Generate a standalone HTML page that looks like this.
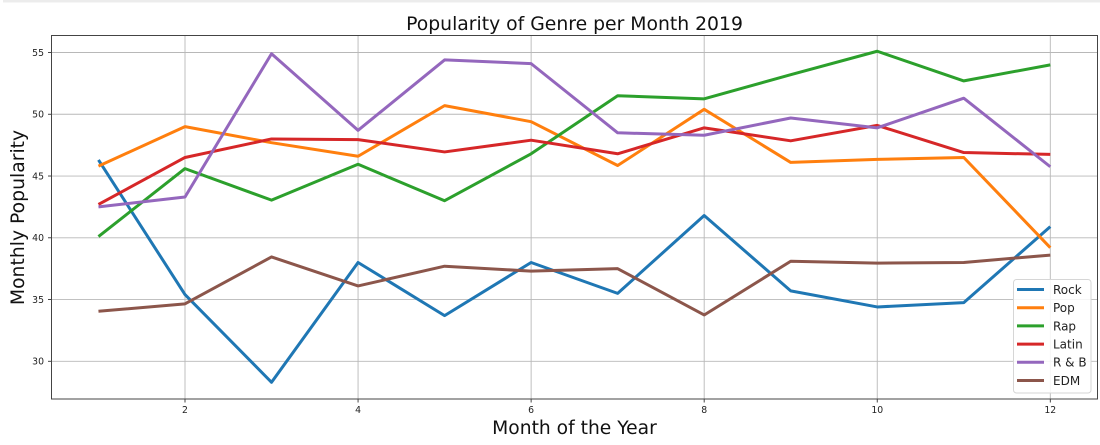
<!DOCTYPE html>
<html lang="en">
<head>
<meta charset="utf-8">
<title>Popularity of Genre per Month 2019</title>
<style>
html,body{margin:0;padding:0;background:#fff;width:1100px;height:445px;overflow:hidden}
svg{display:block;font-family:"DejaVu Sans","Liberation Sans",sans-serif}
</style>
</head>
<body>
<svg id="chart" width="1100" height="445" viewBox="0 0 1100 445" xmlns="http://www.w3.org/2000/svg">
  <rect x="3" y="0" width="1097" height="2.5" fill="#ececec"/>
  <g id="grid"></g>
  <g id="ticks"></g>
  <g id="series"></g>
  <rect x="51.5" y="35.5" width="1046" height="363.5" fill="none" stroke="#444" stroke-width="1"/>
  <text x="574.5" y="30" font-size="18.8" text-anchor="middle" fill="#111">Popularity of Genre per Month 2019</text>
  <text x="574.5" y="434" font-size="18.7" text-anchor="middle" fill="#111">Month of the Year</text>
  <text transform="translate(24 217.5) rotate(-90)" font-size="18.8" text-anchor="middle" fill="#111">Monthly Popularity</text>
  <g id="legend"></g>
</svg>
<script>
const months = [1, 2, 3, 4, 5, 6, 7, 8, 9, 10, 11, 12];
const xTicks = [2, 4, 6, 8, 10, 12];
const yTicks = [30, 35, 40, 45, 50, 55];
const seriesNames = ["Rock", "Pop", "Rap", "Latin", "R & B", "EDM"];
const seriesColors = ["#1f77b4", "#ff7f0e", "#2ca02c", "#d62728", "#9467bd", "#8c564b"];
const rock = [46.3, 35.4, 28.3, 38, 33.7, 38, 35.5, 41.8, 35.7, 34.4, 34.75, 40.9];
const pop = [45.8, 49, 47.7, 46.6, 50.7, 49.4, 45.85, 50.4, 46.1, 46.35, 46.5, 39.2];
const rap = [40.1, 45.6, 43.05, 45.95, 43, 46.8, 51.5, 51.25, 53.2, 55.1, 52.7, 54];
const latin = [42.7, 46.5, 48, 47.95, 46.95, 47.9, 46.8, 48.9, 47.85, 49.1, 46.9, 46.75];
const rnb = [42.5, 43.3, 54.9, 48.7, 54.4, 54.1, 48.5, 48.3, 49.7, 48.9, 51.3, 45.75];
const edm = [34.05, 34.65, 38.45, 36.1, 37.7, 37.3, 37.5, 33.75, 38.1, 37.95, 38, 38.6];
const seriesValues = [rock, pop, rap, latin, rnb, edm];

const NS = "http://www.w3.org/2000/svg";
const plotLeft = 51.5, plotRight = 1097.5, plotTop = 35.5, plotBottom = 399;
function xScale(m) { return 185 + (m - 2) * 86.53; }
function yScale(v) { return 361.3 - (v - 30) * 12.352; }
function make(tag, attrs, parent) {
  const el = document.createElementNS(NS, tag);
  for (const k in attrs) el.setAttribute(k, attrs[k]);
  parent.appendChild(el);
  return el;
}
const grid = document.getElementById("grid");
const ticks = document.getElementById("ticks");
const series = document.getElementById("series");
const legend = document.getElementById("legend");

xTicks.forEach(function (t) {
  const x = xScale(t);
  const gl = make("line", {x1: x, x2: x, y1: plotTop, y2: plotBottom, stroke: "#b8b8b8", "stroke-width": 0.9}, grid);
  
  
  const tm = make("line", {x1: x, x2: x, y1: plotBottom, y2: plotBottom + 3.5, stroke: "#333", "stroke-width": 0.9}, ticks);
  
  
  const lb = make("text", {x: x, y: 413, "font-size": 9.3, "text-anchor": "middle", fill: "#222"}, ticks);
  
  
  lb.textContent = t;
});
yTicks.forEach(function (t) {
  const y = yScale(t);
  const gl = make("line", {x1: plotLeft, x2: plotRight, y1: y, y2: y, stroke: "#b8b8b8", "stroke-width": 0.9}, grid);
  
  
  const tm = make("line", {x1: plotLeft - 3.5, x2: plotLeft, y1: y, y2: y, stroke: "#333", "stroke-width": 0.9}, ticks);
  
  
  const lb = make("text", {x: 44, y: y + 3.4, "font-size": 9.3, "text-anchor": "end", fill: "#222"}, ticks);
  
  
  lb.textContent = t;
});
seriesValues.forEach(function (vals, i) {
  const pts = vals.map(function (v, j) { return xScale(months[j]).toFixed(2) + "," + yScale(v).toFixed(2); }).join(" ");
  const pl = make("polyline", {points: pts, fill: "none", stroke: seriesColors[i], "stroke-width": 3, "stroke-linejoin": "round", "stroke-linecap": "butt"}, series);
  
  
  pl.setAttribute('aria-label', seriesNames[i]);
});
const box = make("rect", {x: 1013.5, y: 279.5, width: 77.5, height: 113.5, rx: 3, fill: "#fff", "fill-opacity": 0.85, stroke: "#d6d6d6", "stroke-width": 1}, legend);


seriesNames.forEach(function (name, i) {
  const y = 289.5 + i * 18.2;
  const ln = make("line", {x1: 1017, x2: 1044, y1: y, y2: y, stroke: seriesColors[i], "stroke-width": 3}, legend);
  
  
  const tx = make("text", {x: 1053, y: y + 4.4, "font-size": 12, fill: "#222"}, legend);
  
  
  tx.textContent = name;
});
</script>
</body>
</html>
